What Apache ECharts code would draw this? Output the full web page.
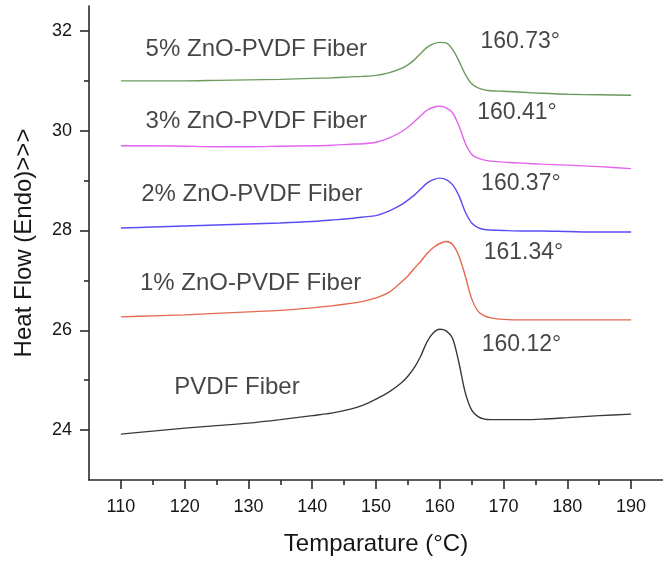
<!DOCTYPE html>
<html>
<head>
<meta charset="utf-8">
<script src="https://cdn.jsdelivr.net/npm/echarts@6/dist/echarts.min.js"></script>
<style>
  html, body { margin: 0; padding: 0; background: #fff; }
  #main { width: 663px; height: 561px; }
</style>
</head>
<body>
<div id="main"></div>
<script>
// temperatures (°C) shared by every curve
var temps = [110, 115, 120, 125, 130, 135, 140, 143, 146, 148, 150, 152, 154, 155, 156, 157, 158, 159, 160, 161, 162, 163, 164, 165, 166, 167, 168, 170, 173, 176, 180, 185, 190];

// heat flow curves
var pvdf = [23.92, 23.98, 24.04, 24.09, 24.14, 24.21, 24.29, 24.34, 24.42, 24.50, 24.62, 24.76, 24.95, 25.08, 25.25, 25.48, 25.77, 25.95, 26.02, 25.99, 25.84, 25.35, 24.75, 24.40, 24.27, 24.22, 24.21, 24.21, 24.21, 24.22, 24.25, 24.29, 24.32];
var zno1 = [26.27, 26.29, 26.31, 26.34, 26.37, 26.40, 26.45, 26.49, 26.54, 26.58, 26.65, 26.76, 26.97, 27.09, 27.24, 27.38, 27.54, 27.66, 27.74, 27.78, 27.72, 27.49, 27.09, 26.63, 26.38, 26.29, 26.25, 26.22, 26.21, 26.21, 26.21, 26.21, 26.21];
var zno2 = [28.05, 28.07, 28.09, 28.11, 28.13, 28.15, 28.18, 28.21, 28.24, 28.27, 28.30, 28.39, 28.52, 28.61, 28.71, 28.83, 28.95, 29.02, 29.05, 29.02, 28.92, 28.70, 28.37, 28.15, 28.06, 28.02, 28.01, 28.00, 27.99, 27.99, 27.98, 27.97, 27.97];
var zno3 = [29.70, 29.70, 29.69, 29.68, 29.68, 29.69, 29.70, 29.71, 29.73, 29.74, 29.77, 29.85, 29.98, 30.07, 30.18, 30.30, 30.41, 30.47, 30.49, 30.46, 30.36, 30.10, 29.75, 29.53, 29.45, 29.41, 29.39, 29.37, 29.35, 29.33, 29.31, 29.28, 29.24];
var zno5 = [31.00, 31.00, 31.00, 31.01, 31.02, 31.03, 31.05, 31.06, 31.08, 31.09, 31.11, 31.16, 31.25, 31.32, 31.42, 31.55, 31.67, 31.74, 31.77, 31.76, 31.63, 31.40, 31.13, 30.94, 30.86, 30.82, 30.80, 30.79, 30.77, 30.75, 30.73, 30.72, 30.71];

var curveNames = ['PVDF Fiber', '1% ZnO-PVDF Fiber', '2% ZnO-PVDF Fiber', '3% ZnO-PVDF Fiber', '5% ZnO-PVDF Fiber'];
var curveColors = ['#3a3a3a', '#e5684f', '#5a4cf5', '#e463ec', '#6c9a5c'];
// where each curve's name sits (x, y in axis units)
var nameAnchors = [[118.3, 24.85], [112.9, 26.94], [113.1, 28.72], [113.8, 30.19], [113.8, 31.64]];
// melting peak labels
var peakTemps = ['160.12°', '161.34°', '160.37°', '160.41°', '160.73°'];
var peakAnchors = [[166.5, 25.72], [166.8, 27.56], [166.4, 28.94], [165.8, 30.36], [166.3, 31.78]];

var xMajor = [110, 120, 130, 140, 150, 160, 170, 180, 190];
var xMinor = [115, 125, 135, 145, 155, 165, 175, 185];
var yMajor = [24, 26, 28, 30, 32];
var yMinor = [25, 27, 29, 31];

var font = "'Liberation Sans', Arial, sans-serif";
var txt = '#161616';

function pairs(ys) {
  var out = [];
  for (var i = 0; i < temps.length; i++) out.push([temps[i], ys[i]]);
  return out;
}

var curves = [pvdf, zno1, zno2, zno3, zno5];
var series = [];
curves.forEach(function (c, i) {
  series.push({
    name: curveNames[i],
    type: 'line',
    data: pairs(c),
    smooth: 0.3,
    showSymbol: false,
    lineStyle: { color: curveColors[i], width: 1.4 },
    z: 3
  });
});

// text annotations
var annot = [];
nameAnchors.forEach(function (p, i) {
  annot.push({ value: [p[0], p[1]], text: curveNames[i], label: { fontSize: 24 } });
});
peakAnchors.forEach(function (p, i) {
  annot.push({ value: [p[0], p[1]], text: peakTemps[i], label: { fontSize: 23 } });
});
series.push({
  type: 'scatter',
  data: annot,
  symbolSize: 1,
  itemStyle: { color: 'rgba(0,0,0,0)' },
  silent: true,
  z: 5,
  label: {
    show: true,
    position: 'right',
    distance: 0,
    formatter: function (p) { return p.data.text; },
    color: txt,
    fontFamily: font,
    fontSize: 24
  }
});

var axisLineStyle = { color: '#2a2a2a', width: 1.6 };

var option = {
  animation: false,
  backgroundColor: '#fff',
  grid: { left: 89, top: 6, width: 584, height: 475, containLabel: false },
  xAxis: [{
    type: 'value',
    min: 105, max: 195, interval: 5,
    name: 'Temparature (°C)',
    nameLocation: 'middle',
    nameGap: 52,
    nameTextStyle: { color: txt, fontFamily: font, fontSize: 24 },
    axisLine: { lineStyle: axisLineStyle },
    axisTick: { length: 9, lineStyle: axisLineStyle, customValues: xMajor },
    axisLabel: { customValues: xMajor, margin: 18, color: txt, fontFamily: font, fontSize: 18 },
    splitLine: { show: false }
  }, {
    type: 'value',
    min: 105, max: 195, interval: 5,
    position: 'bottom',
    axisLine: { show: false },
    axisTick: { length: 5, lineStyle: axisLineStyle, customValues: xMinor },
    axisLabel: { show: false },
    splitLine: { show: false }
  }],
  yAxis: [{
    type: 'value',
    min: 23, max: 32.5, interval: 1,
    name: 'Heat Flow (Endo)>>>',
    nameLocation: 'middle',
    nameGap: 53,
    nameTextStyle: { color: txt, fontFamily: font, fontSize: 24 },
    axisLine: { show: true, lineStyle: axisLineStyle },
    axisTick: { show: true, length: 9, lineStyle: axisLineStyle, customValues: yMajor },
    axisLabel: { customValues: yMajor, margin: 17, color: txt, fontFamily: font, fontSize: 18 },
    splitLine: { show: false }
  }, {
    type: 'value',
    min: 23, max: 32.5, interval: 1,
    position: 'left',
    axisLine: { show: false },
    axisTick: { show: true, length: 5, lineStyle: axisLineStyle, customValues: yMinor },
    axisLabel: { show: false },
    splitLine: { show: false }
  }],
  series: series
};

var chart = echarts.init(document.getElementById('main'), null, { renderer: 'canvas' });
chart.setOption(option);
</script>
</body>
</html>
